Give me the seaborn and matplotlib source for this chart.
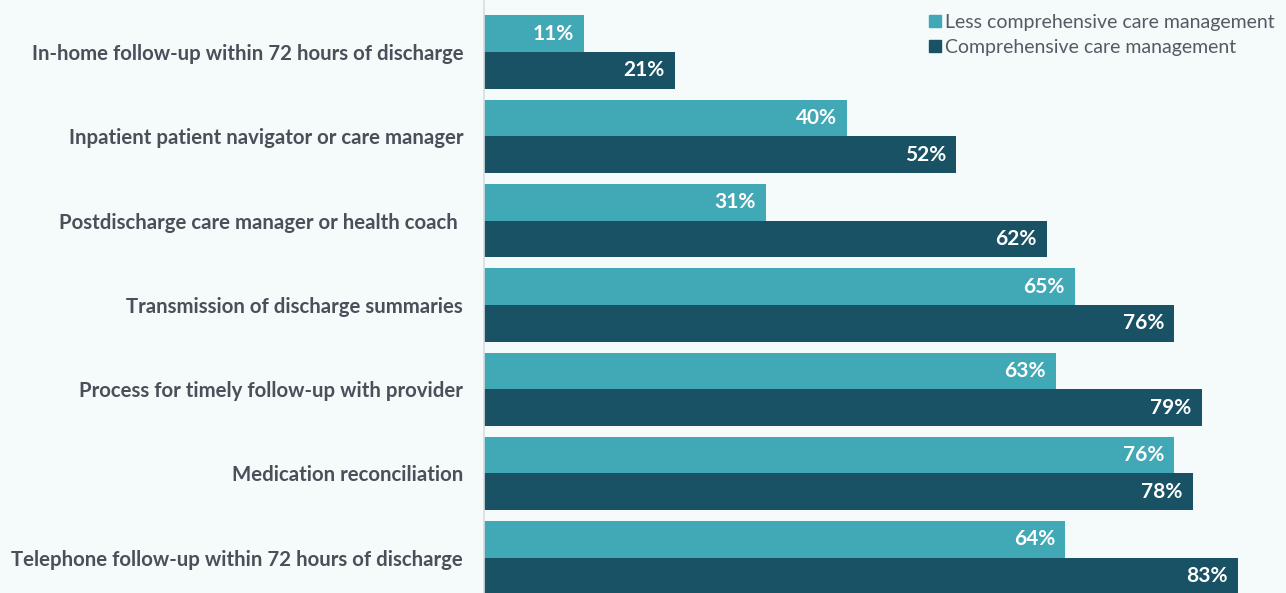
import matplotlib
matplotlib.use("Agg")
import matplotlib.pyplot as plt
import seaborn as sns
import pandas as pd
from matplotlib.lines import Line2D

categories = [
    "In-home follow-up within 72 hours of discharge",
    "Inpatient patient navigator or care manager",
    "Postdischarge care manager or health coach ",
    "Transmission of discharge summaries",
    "Process for timely follow-up with provider",
    "Medication reconciliation",
    "Telephone follow-up within 72 hours of discharge",
]
series_names = ["Less comprehensive care management", "Comprehensive care management"]
less_vals = [11, 40, 31, 65, 63, 76, 64]
comp_vals = [21, 52, 62, 76, 79, 78, 83]
colors = ["#41a8b5", "#185264"]

df = pd.DataFrame({
    "category": categories * 2,
    "value": less_vals + comp_vals,
    "series": [series_names[0]] * len(categories) + [series_names[1]] * len(categories),
})

sns.set_style("white")
plt.rcParams["font.family"] = ["Lato", "DejaVu Sans"]
bg = "#f5fafb"
fig = plt.figure(figsize=(12.86, 5.93), dpi=100, facecolor=bg)
ax = fig.add_axes([484 / 1286, 0, 1 - 484 / 1286, 1])
ax.set_facecolor(bg)

sns.barplot(data=df, y="category", x="value", hue="series", order=categories,
            hue_order=series_names, palette=colors, orient="h", width=0.87,
            saturation=1, ax=ax, legend=False, edgecolor="none")

ax.set_xlim(0, (1286 - 484) / 9.085)
ax.set_ylim(6.418, -0.617)
ax.set_xlabel("")
ax.set_ylabel("")
ax.set_xticks([])
for s in ["top", "right", "bottom"]:
    ax.spines[s].set_visible(False)
ax.spines["left"].set_color("#d8dcdf")
ax.spines["left"].set_linewidth(1.2)
ax.tick_params(axis="y", length=0, pad=15)
for lab in ax.get_yticklabels():
    lab.set_fontsize(14.7)
    lab.set_fontweight("bold")
    lab.set_color("#4a4f5a")

for cont in ax.containers:
    for patch, v in zip(cont.patches, cont.datavalues):
        ax.annotate(f"{int(round(v))}%",
                    xy=(patch.get_x() + patch.get_width(), patch.get_y() + patch.get_height() / 2),
                    xytext=(-7.5, 0), textcoords="offset points",
                    ha="right", va="center", color="white", fontsize=15, fontweight="bold")

handles = [Line2D([0], [0], marker="s", linestyle="none", markersize=8,
                  markerfacecolor=c, markeredgecolor=c) for c in colors]
fig.legend(handles, series_names, loc="upper right", bbox_to_anchor=(1.002, 1.0),
           frameon=False, fontsize=14, labelcolor="#555a64", handletextpad=0.05,
           labelspacing=0.42, borderaxespad=0.3, handlelength=1.0)

fig.savefig("out.png", dpi=100, facecolor=bg)
